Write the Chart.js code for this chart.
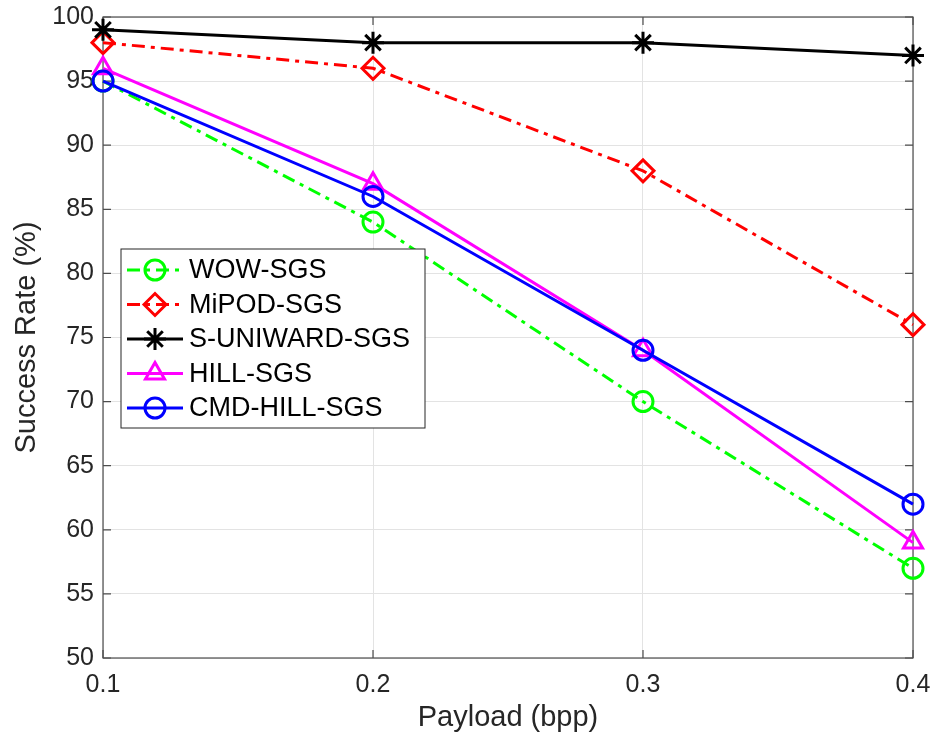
<!DOCTYPE html>
<html>
<head>
<meta charset="utf-8">
<script src="https://cdn.jsdelivr.net/npm/chart.js@4/dist/chart.umd.min.js"></script>
<style>
  html, body { margin: 0; padding: 0; background: #fff; }
  #wrap { width: 934px; height: 738px; }
</style>
</head>
<body>
<div id="wrap"><canvas id="chartCanvas" width="934" height="738"></canvas></div>
<script>
const payloads = [0.1, 0.2, 0.3, 0.4];
const wowSgs = [95, 84, 70, 57];
const mipodSgs = [98, 96, 88, 76];
const suniwardSgs = [99, 98, 98, 97];
const hillSgs = [96, 87, 74, 59];
const cmdHillSgs = [95, 86, 74, 62];
const yTicks = [50, 55, 60, 65, 70, 75, 80, 85, 90, 95, 100];

const FONT = '"Liberation Sans", Arial, Helvetica, sans-serif';

function series(label, values, color, style, dash, order) {
  return {
    label: label,
    data: payloads.map((x, i) => ({ x: x, y: values[i] })),
    borderColor: color,
    backgroundColor: 'rgba(0,0,0,0)',
    pointBorderColor: color,
    pointBackgroundColor: 'rgba(0,0,0,0)',
    borderWidth: 3,
    borderDash: dash,
    pointStyle: style,
    pointRadius: style === 'circle' ? 10 : 11,
    pointBorderWidth: 3,
    tension: 0,
    clip: false,
    order: order
  };
}

const dashDot = [13, 6, 4, 6];
const datasets = [
  series('WOW-SGS', wowSgs, '#00ff00', 'circle', dashDot, 5),
  series('MiPOD-SGS', mipodSgs, '#ff0000', 'rectRot', dashDot, 4),
  series('S-UNIWARD-SGS', suniwardSgs, '#000000', 'star', [], 3),
  series('HILL-SGS', hillSgs, '#ff00ff', 'triangle', [], 2),
  series('CMD-HILL-SGS', cmdHillSgs, '#0000ff', 'circle', [], 1)
];

// frame + inward ticks like the original figure
const framePlugin = {
  id: 'frame',
  beforeDatasetsDraw(c) {
    const ctx = c.ctx, a = c.chartArea;
    const xs = c.scales.x, ys = c.scales.y;
    ctx.save();
    ctx.strokeStyle = '#4d4d4d';
    ctx.lineWidth = 1.2;
    ctx.strokeRect(a.left, a.top, a.right - a.left, a.bottom - a.top);
    ctx.beginPath();
    payloads.forEach(v => {
      const px = xs.getPixelForValue(v);
      ctx.moveTo(px, a.bottom); ctx.lineTo(px, a.bottom - 8);
      ctx.moveTo(px, a.top); ctx.lineTo(px, a.top + 8);
    });
    yTicks.forEach(v => {
      const py = ys.getPixelForValue(v);
      ctx.moveTo(a.left, py); ctx.lineTo(a.left + 8, py);
      ctx.moveTo(a.right, py); ctx.lineTo(a.right - 8, py);
    });
    ctx.stroke();
    ctx.restore();
  }
};

// legend box inside the plot
const legendPlugin = {
  id: 'boxLegend',
  afterDraw(c) {
    const ctx = c.ctx;
    const x0 = 121, y0 = 249, w = 304, h = 179;
    ctx.save();
    ctx.fillStyle = '#ffffff';
    ctx.fillRect(x0, y0, w, h);
    ctx.strokeStyle = '#262626';
    ctx.lineWidth = 1;
    ctx.strokeRect(x0, y0, w, h);
    ctx.font = '27px ' + FONT;
    ctx.textBaseline = 'middle';
    datasets.forEach((ds, i) => {
      const yy = y0 + 21 + i * 34.5;
      ctx.strokeStyle = ds.borderColor;
      ctx.lineWidth = 3;
      ctx.setLineDash(ds.borderDash);
      ctx.beginPath();
      ctx.moveTo(x0 + 6, yy);
      ctx.lineTo(x0 + 62, yy);
      ctx.stroke();
      ctx.setLineDash([]);
      ctx.strokeStyle = ds.borderColor;
      ctx.fillStyle = 'rgba(0,0,0,0)';
      Chart.helpers.drawPoint(ctx, {
        pointStyle: ds.pointStyle,
        radius: ds.pointRadius,
        borderWidth: 3,
        rotation: 0
      }, x0 + 34, yy);
      ctx.fillStyle = '#000000';
      ctx.fillText(ds.label, x0 + 68, yy + 1);
    });
    ctx.restore();
  }
};

const ctx = document.getElementById('chartCanvas').getContext('2d');
const chart = new Chart(ctx, {
  type: 'line',
  data: { datasets: datasets },
  options: {
    responsive: false,
    animation: false,
    layout: { padding: { left: 0, right: 21, top: 17, bottom: 0 } },
    plugins: {
      legend: { display: false },
      tooltip: { enabled: false }
    },
    scales: {
      x: {
        type: 'linear',
        min: 0.1,
        max: 0.4,
        afterBuildTicks: s => { s.ticks = payloads.map(v => ({ value: v })); },
        afterFit: s => { s.height = 80; s.paddingLeft = 0; s.paddingRight = 0; },
        grid: { color: '#e3e3e3', lineWidth: 1, drawTicks: false },
        border: { display: false },
        ticks: {
          padding: 12,
          color: '#262626',
          font: { family: FONT, size: 25 },
          callback: v => v.toFixed(1)
        },
        title: {
          display: true,
          text: 'Payload (bpp)',
          color: '#262626',
          font: { family: FONT, size: 29 },
          padding: { top: 0, bottom: 3 }
        }
      },
      y: {
        min: 50,
        max: 100,
        afterBuildTicks: s => { s.ticks = yTicks.map(v => ({ value: v })); },
        afterFit: s => { s.width = 103; s.paddingTop = 0; s.paddingBottom = 0; },
        grid: { color: '#e3e3e3', lineWidth: 1, drawTicks: false },
        border: { display: false },
        ticks: {
          padding: 9,
          color: '#262626',
          font: { family: FONT, size: 25 }
        },
        title: {
          display: true,
          text: 'Success Rate (%)',
          color: '#262626',
          font: { family: FONT, size: 29 },
          padding: { top: 10, bottom: 0 }
        }
      }
    }
  },
  plugins: [framePlugin, legendPlugin]
});
</script>
</body>
</html>
